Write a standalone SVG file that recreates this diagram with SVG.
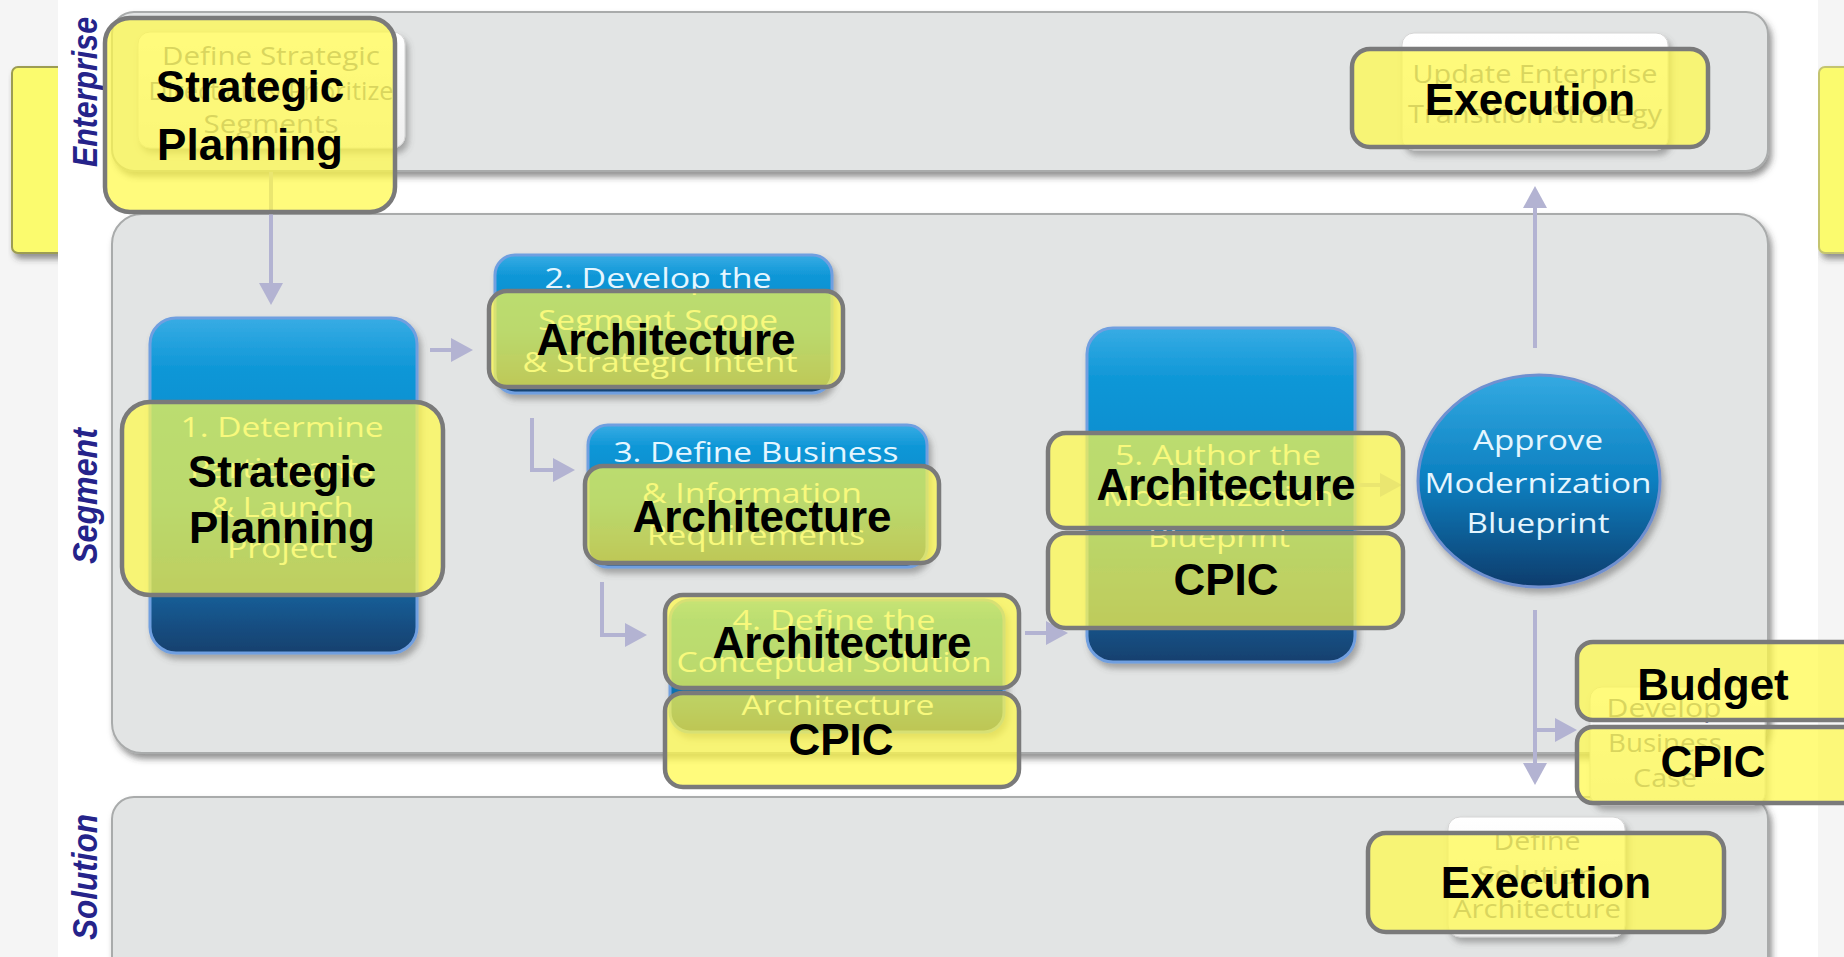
<svg xmlns="http://www.w3.org/2000/svg" width="1844" height="957" viewBox="0 0 1844 957">
<defs>
<style>
.lane{fill:#e2e4e4;stroke:#a9abab;stroke-width:2;filter:url(#sh)}
.lbl{font-family:"Liberation Sans",Arial,sans-serif;font-weight:bold;font-style:italic;font-size:35px;fill:#25238a;text-anchor:middle}
.blue{fill:url(#bg);stroke:#6f9fe0;stroke-width:3;filter:url(#sh2)}
.wbox{fill:url(#wg);stroke:#d4d4d4;stroke-width:1;filter:url(#sh2)}
.sub{font-family:"Open Sans","Liberation Sans",sans-serif;font-size:28px;text-anchor:middle}
.sm{font-size:25px}
.wt{fill:#e4f6ff}
.gt{fill:#767892}
.ov{fill:#fffa4a;fill-opacity:.72;stroke:#7a7a7a;stroke-width:4.5}
.big{font-family:"Liberation Sans",Arial,sans-serif;font-weight:bold;font-size:44px;fill:#000;text-anchor:middle}
.con{fill:none;stroke:#b3b3d2;stroke-width:4;marker-end:url(#ah)}
</style>
<linearGradient id="bg" x1="0" y1="0" x2="0" y2="1">
<stop offset="0" stop-color="#38ace4"/>
<stop offset="0.15" stop-color="#0f97d7"/>
<stop offset="0.55" stop-color="#0a86c8"/>
<stop offset="0.85" stop-color="#175a92"/>
<stop offset="1" stop-color="#16406e"/>
</linearGradient>
<linearGradient id="cg" x1="0" y1="0" x2="0" y2="1">
<stop offset="0" stop-color="#34aae2"/>
<stop offset="0.5" stop-color="#0b7fc0"/>
<stop offset="1" stop-color="#0e3c6c"/>
</linearGradient>
<linearGradient id="wg" x1="0" y1="0" x2="0" y2="1">
<stop offset="0" stop-color="#ffffff"/>
<stop offset="1" stop-color="#eeeeee"/>
</linearGradient>
<filter id="sh" x="-5%" y="-10%" width="115%" height="130%">
<feDropShadow dx="3" dy="5" stdDeviation="3" flood-color="#3a3a3a" flood-opacity="0.55"/>
</filter>
<filter id="sh2" x="-10%" y="-10%" width="125%" height="130%">
<feDropShadow dx="3" dy="5" stdDeviation="3" flood-color="#555555" flood-opacity="0.45"/>
</filter>
<marker id="ah" markerUnits="userSpaceOnUse" viewBox="0 0 24 26" markerWidth="24" markerHeight="26" refX="14" refY="13" orient="auto">
<path d="M0,1 L22,13 L0,25 Z" fill="#b3b3d2"/>
</marker>
</defs>

<g id="background">
<rect width="1844" height="957" fill="#f5f5f5"/>
<rect x="12" y="67" width="80" height="186" rx="6" fill="#fbfb6e" stroke="#9c9c52" stroke-width="2" filter="url(#sh)"/>
<rect x="1819" y="67" width="60" height="186" rx="6" fill="#fbfb6e" stroke="#c4c470" stroke-width="2" filter="url(#sh)"/>
<rect x="58" y="0" width="1760" height="957" fill="#ffffff"/>
</g>

<g id="lanes">
<rect id="lane-enterprise" class="lane" x="112" y="12" width="1656" height="159" rx="22"/>
<rect id="lane-segment" class="lane" x="112" y="214" width="1656" height="539" rx="30"/>
<rect id="lane-solution" class="lane" x="112" y="797" width="1656" height="200" rx="22"/>
<text class="lbl" transform="translate(97,92) rotate(-90)" textLength="150" lengthAdjust="spacingAndGlyphs">Enterprise</text>
<text class="lbl" transform="translate(97,496) rotate(-90)" textLength="136" lengthAdjust="spacingAndGlyphs">Segment</text>
<text class="lbl" transform="translate(97,877) rotate(-90)" textLength="126" lengthAdjust="spacingAndGlyphs">Solution</text>
</g>

<g id="node-define-strategic">
<rect class="wbox" x="138" y="32" width="267" height="116" rx="12"/>
<text class="sub sm gt" x="271" y="65" textLength="218" lengthAdjust="spacingAndGlyphs">Define Strategic</text>
<text class="sub sm gt" x="271" y="100" textLength="245" lengthAdjust="spacingAndGlyphs">Direction &amp; Prioritize</text>
<text class="sub sm gt" x="271" y="133" textLength="135" lengthAdjust="spacingAndGlyphs">Segments</text>
</g>

<g id="node-update-enterprise">
<rect class="wbox" x="1402" y="33" width="266" height="117" rx="12"/>
<text class="sub sm gt" x="1535" y="83" textLength="245" lengthAdjust="spacingAndGlyphs">Update Enterprise</text>
<text class="sub sm gt" x="1535" y="123" textLength="254" lengthAdjust="spacingAndGlyphs">Transition Strategy</text>
</g>

<g id="node-step1">
<rect class="blue" x="150" y="318" width="267" height="335" rx="26"/>
<text class="sub wt" x="282" y="437" textLength="203" lengthAdjust="spacingAndGlyphs">1. Determine</text>
<text class="sub wt" x="282" y="478" textLength="184" lengthAdjust="spacingAndGlyphs">Participants</text>
<text class="sub wt" x="282" y="517" textLength="143" lengthAdjust="spacingAndGlyphs">&amp; Launch</text>
<text class="sub wt" x="282" y="558" textLength="110" lengthAdjust="spacingAndGlyphs">Project</text>
</g>

<g id="node-step2">
<rect class="blue" x="495" y="255" width="337" height="138" rx="20"/>
<text class="sub wt" x="658" y="288" textLength="227" lengthAdjust="spacingAndGlyphs">2. Develop the</text>
<text class="sub wt" x="658" y="330" textLength="240" lengthAdjust="spacingAndGlyphs">Segment Scope</text>
<text class="sub wt" x="660" y="372" textLength="275" lengthAdjust="spacingAndGlyphs">&amp; Strategic Intent</text>
</g>

<g id="node-step3">
<rect class="blue" x="588" y="425" width="339" height="142" rx="20"/>
<text class="sub wt" x="756" y="462" textLength="285" lengthAdjust="spacingAndGlyphs">3. Define Business</text>
<text class="sub wt" x="752" y="503" textLength="220" lengthAdjust="spacingAndGlyphs">&amp; Information</text>
<text class="sub wt" x="756" y="545" textLength="218" lengthAdjust="spacingAndGlyphs">Requirements</text>
</g>

<g id="node-step4">
<rect class="blue" x="670" y="600" width="334" height="132" rx="20"/>
<text class="sub wt" x="834" y="630" textLength="203" lengthAdjust="spacingAndGlyphs">4. Define the</text>
<text class="sub wt" x="834" y="672" textLength="315" lengthAdjust="spacingAndGlyphs">Conceptual Solution</text>
<text class="sub wt" x="838" y="715" textLength="193" lengthAdjust="spacingAndGlyphs">Architecture</text>
</g>

<g id="node-step5">
<rect class="blue" x="1087" y="328" width="268" height="334" rx="26"/>
<text class="sub wt" x="1218" y="465" textLength="206" lengthAdjust="spacingAndGlyphs">5. Author the</text>
<text class="sub wt" x="1218" y="506" textLength="231" lengthAdjust="spacingAndGlyphs">Modernization</text>
<text class="sub wt" x="1219" y="547" textLength="142" lengthAdjust="spacingAndGlyphs">Blueprint</text>
</g>

<g id="node-approve">
<ellipse cx="1539" cy="481" rx="121" ry="106" fill="url(#cg)" stroke="#7090d0" stroke-width="3" filter="url(#sh2)"/>
<text class="sub wt" x="1538" y="450" font-size="27" textLength="130" lengthAdjust="spacingAndGlyphs">Approve</text>
<text class="sub wt" x="1538" y="493" font-size="27" textLength="227" lengthAdjust="spacingAndGlyphs">Modernization</text>
<text class="sub wt" x="1538" y="533" font-size="27" textLength="143" lengthAdjust="spacingAndGlyphs">Blueprint</text>
</g>

<g id="node-business-case">
<rect class="wbox" x="1590" y="687" width="175" height="118" rx="12"/>
<text class="sub sm gt" x="1664" y="717" textLength="115" lengthAdjust="spacingAndGlyphs">Develop</text>
<text class="sub sm gt" x="1665" y="752" textLength="114" lengthAdjust="spacingAndGlyphs">Business</text>
<text class="sub sm gt" x="1665" y="787" textLength="64" lengthAdjust="spacingAndGlyphs">Case</text>
</g>

<g id="node-solution-arch">
<rect class="wbox" x="1448" y="817" width="177" height="120" rx="12"/>
<text class="sub sm gt" x="1537" y="850" textLength="87" lengthAdjust="spacingAndGlyphs">Define</text>
<text class="sub sm gt" x="1537" y="884" textLength="120" lengthAdjust="spacingAndGlyphs">Solution</text>
<text class="sub sm gt" x="1537" y="918" textLength="168" lengthAdjust="spacingAndGlyphs">Architecture</text>
</g>

<g id="connectors">
<path class="con" d="M271,172 V297"/>
<path class="con" d="M430,350 H465"/>
<path class="con" d="M532,418 V470 H567"/>
<path class="con" d="M602,582 V635 H639"/>
<path class="con" d="M1025,633 H1060"/>
<path class="con" d="M1357,485 H1394"/>
<path class="con" d="M1535,348 V194"/>
<path class="con" d="M1535,610 V777"/>
<path class="con" d="M1535,730 H1569"/>
</g>

<g id="tag-enterprise-strategic">
<rect class="ov" x="105" y="18" width="290" height="194" rx="25"/>
<text class="big" x="250" y="102">Strategic</text>
<text class="big" x="250" y="160">Planning</text>
</g>
<g id="tag-enterprise-execution">
<rect class="ov" x="1352" y="49" width="356" height="98" rx="18"/>
<text class="big" x="1530" y="115">Execution</text>
</g>
<g id="tag-step1-strategic">
<rect class="ov" x="122" y="402" width="321" height="193" rx="28"/>
<text class="big" x="282" y="487">Strategic</text>
<text class="big" x="282" y="543">Planning</text>
</g>
<g id="tag-step2-architecture">
<rect class="ov" x="489" y="291" width="354" height="96" rx="18"/>
<text class="big" x="666" y="355">Architecture</text>
</g>
<g id="tag-step3-architecture">
<rect class="ov" x="585" y="466" width="354" height="97" rx="18"/>
<text class="big" x="762" y="532">Architecture</text>
</g>
<g id="tag-step4-architecture">
<rect class="ov" x="665" y="595" width="354" height="93" rx="18"/>
<text class="big" x="842" y="658">Architecture</text>
</g>
<g id="tag-step4-cpic">
<rect class="ov" x="665" y="693" width="354" height="94" rx="18"/>
<text class="big" x="841" y="755">CPIC</text>
</g>
<g id="tag-step5-architecture">
<rect class="ov" x="1048" y="433" width="355" height="95" rx="18"/>
<text class="big" x="1226" y="500">Architecture</text>
</g>
<g id="tag-step5-cpic">
<rect class="ov" x="1048" y="533" width="355" height="95" rx="18"/>
<text class="big" x="1226" y="595">CPIC</text>
</g>
<g id="tag-budget">
<rect class="ov" x="1577" y="642" width="300" height="78" rx="16"/>
<text class="big" x="1713" y="700">Budget</text>
</g>
<g id="tag-business-cpic">
<rect class="ov" x="1577" y="727" width="300" height="76" rx="16"/>
<text class="big" x="1713" y="777">CPIC</text>
</g>
<g id="tag-solution-execution">
<rect class="ov" x="1368" y="833" width="356" height="99" rx="18"/>
<text class="big" x="1546" y="898">Execution</text>
</g>
</svg>
